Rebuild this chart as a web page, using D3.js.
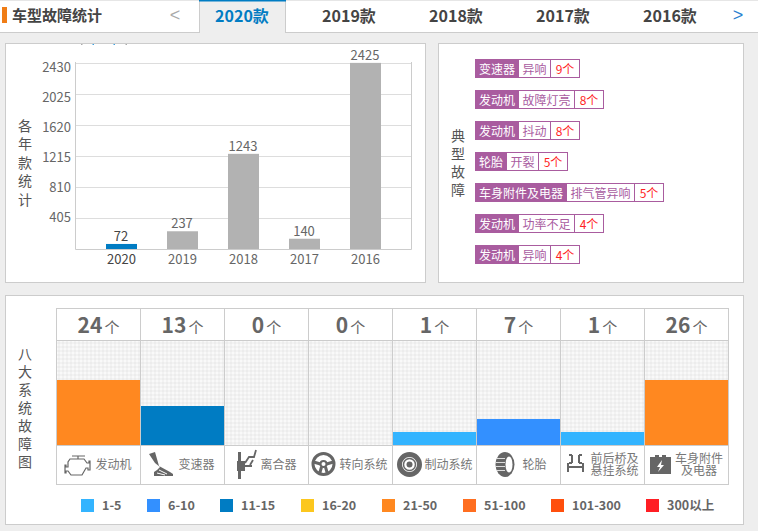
<!DOCTYPE html>
<html><head><meta charset="utf-8">
<script src="https://cdn.jsdelivr.net/npm/d3@7/dist/d3.min.js"></script>
<style>html,body{margin:0;padding:0;background:#eee;overflow:hidden}svg{display:block}
text{font-family:"Noto Sans CJK SC","Noto Sans",sans-serif}</style></head><body><svg id="c" width="758" height="531"></svg>
<script>
const tabYears=["2020款","2019款","2018款","2017款","2016款"];
const years=["2020","2019","2018","2017","2016"];
const yearCounts=[72,237,1243,140,2425];
const yTicks=[405,810,1215,1620,2025,2430];
const tagSystems=["变速器","发动机","发动机","轮胎","车身附件及电器","发动机","发动机"];
const tagFaults=["异响","故障灯亮","抖动","开裂","排气管异响","功率不足","异响"];
const tagCounts=[9,8,8,5,5,4,4];
const systems=["发动机","变速器","离合器","转向系统","制动系统","轮胎","前后桥及\n悬挂系统","车身附件\n及电器"];
const systemCounts=[24,13,0,0,1,7,1,26];
const legendLabels=["1-5","6-10","11-15","16-20","21-50","51-100","101-300","300以上"];
const legendColors=["#33b4ff","#3390ff","#007cc3","#fcc71e","#ff8820","#ff6e20","#ff4f0d","#ff1e24"];
const bucketStarts=[1,6,11,16,21,51,101,301];

const svg=d3.select("#c");
const W=758,H=531;
function rect(x,y,w,h,fill,stroke){return svg.append("rect").attr("x",x).attr("y",y).attr("width",w).attr("height",h).attr("fill",fill).attr("stroke",stroke||"none");}
function text(p,x,y,s,size,fill,anchor,weight){return p.append("text").attr("x",x).attr("y",y).text(s).attr("font-size",size).attr("fill",fill).attr("text-anchor",anchor||"start").attr("font-weight",weight||400);}
function stacked(parts,x,y0,step,size,fill){
  const t=svg.append("text").attr("font-size",size).attr("fill",fill).attr("text-anchor","middle");
  parts.forEach((c,i)=>t.append("tspan").attr("x",x).attr("y",y0+i*step).text(c));
}
function vertical(chars,x,y0,step,size,fill){stacked([...chars],x,y0,step,size,fill);}

// top bar
rect(0,0,W,32.5,"#fff");
svg.append("line").attr("x1",0).attr("x2",W).attr("y1",0.5).attr("y2",0.5).attr("stroke","#e6e6e6");
svg.append("line").attr("x1",0).attr("x2",W).attr("y1",32.5).attr("y2",32.5).attr("stroke","#ccc");
rect(2,7,5,16,"#f07d16");
text(svg,12,21,"车型故障统计",15,"#444","start",700);
rect(199.5,0,86,34,"#eee");
svg.append("path").attr("d","M199.5 33V0M285.5 33V0").attr("stroke","#ccc").attr("fill","none");
rect(199,0,87,1.5,"#007cc3");
const tabX=d3.scalePoint().domain(tabYears).range([242,670]);
tabYears.forEach((t,i)=>text(svg,tabX(t),22,t,16,i===0?"#007cc3":"#444","middle",700));
text(svg,175,21,"<",18,"#aaa","middle").style("font-family","Liberation Sans");
text(svg,738,21,">",18,"#2a80d0","middle").style("font-family","Liberation Sans");

// panels
rect(5.5,43.5,420,239,"#fff","#ccc");
rect(438.5,43.5,305,239,"#fff","#ccc");
rect(5.5,295.5,738,229,"#fff","#ccc");
// clipped legend remnants at the panel's top edge
[[81,"#aaa"],[92.5,"#3aa0e0"],[113.5,"#3aa0e0"],[125.5,"#aaa"]].forEach(m=>rect(m[0],44,1.5,1,m[1]));

// yearly chart
const x=d3.scaleBand().domain(years).range([91,396]).paddingInner(30/61).paddingOuter(15/61);
const y=d3.scaleLinear().domain([0,2430]).range([249.5,62.5]);
const yLab=d3.scaleLinear().domain([0,2430]).range([251,71]);
const gg=svg.append("g");
gg.selectAll("line").data(yTicks).join("line").attr("x1",75).attr("x2",411).attr("y1",d=>Math.round(y(d))+.5).attr("y2",d=>Math.round(y(d))+.5).attr("stroke","#ddd");
gg.append("path").attr("d","M75.5 62V249.5H411.5V62").attr("fill","none").attr("stroke","#ccc");
const axL=svg.append("g").attr("transform","translate(71,0)").call(d3.axisLeft(yLab).tickValues(yTicks).tickFormat(d3.format("d")).tickSize(0).tickPadding(0));
axL.select(".domain").remove();
axL.selectAll("text").attr("font-size",13).attr("fill","#666").attr("font-family",'"Noto Sans CJK SC"').attr("dy",0).attr("y",0);
const axB=svg.append("g").attr("transform","translate(0,264)").call(d3.axisBottom(x).tickSize(0).tickPadding(0));
axB.select(".domain").remove();
axB.selectAll("text").attr("font-size",13).attr("font-family",'"Noto Sans CJK SC"').attr("y",0).attr("dy",0).attr("fill",d=>d==="2020"?"#444":"#666");
svg.append("g").selectAll("rect").data(years).join("rect").attr("x",d=>x(d)).attr("width",x.bandwidth())
 .attr("y",(d,i)=>y(yearCounts[i])).attr("height",(d,i)=>249-y(yearCounts[i])).attr("fill",d=>d==="2020"?"#007cc3":"#b2b2b2");
years.forEach((d,i)=>text(svg,x(d)+x.bandwidth()/2-.5,y(yearCounts[i])-3,yearCounts[i],13,i===0?"#444":"#666","middle"));
vertical("各年款统计",25,131,18.4,14,"#555");
vertical("典型故障",458,141,18,14,"#555");

// fault tags
const rowY=d3.scalePoint().domain(d3.range(tagSystems.length)).range([59,245]);
const purple="#a95c9f";
tagSystems.forEach((s,i)=>{
  const g=svg.append("g").attr("transform",`translate(475,${rowY(i)})`);
  const w0=[...s].length*12+8, w1=[...tagFaults[i]].length*12+7, w2=30;
  g.append("rect").attr("x",.5).attr("y",.5).attr("width",w0+w1+w2-1).attr("height",18).attr("fill","#fff").attr("stroke",purple);
  g.append("rect").attr("x",0).attr("y",0).attr("width",w0).attr("height",19).attr("fill",purple);
  g.append("line").attr("x1",w0+w1+.5).attr("x2",w0+w1+.5).attr("y1",0).attr("y2",19).attr("stroke",purple);
  text(g,w0/2,14.5,s,12,"#fff","middle");
  text(g,w0+w1/2,14.5,tagFaults[i],12,purple,"middle");
  text(g,w0+w1+w2/2,14.5,tagCounts[i]+"个",12,"#ff1e24","middle");
});

// system table
const defs=svg.append("defs");
const pat=defs.append("pattern").attr("id","dots").attr("width",4).attr("height",4).attr("patternUnits","userSpaceOnUse");
pat.append("rect").attr("width",4).attr("height",4).attr("fill","#f2f2f2");
pat.append("rect").attr("x",0).attr("y",0).attr("width",2).attr("height",2).attr("fill","#f9f9f9");
pat.append("rect").attr("x",2).attr("y",2).attr("width",2).attr("height",2).attr("fill","#ececec");
const cx=d3.scaleBand().domain(systems).range([56.5,728.5]);
const level=d3.scaleThreshold().domain(bucketStarts).range([0,1,2,3,4,5,6,7,8]);
const barH=d3.scaleLinear().domain([0,8]).range([0,104]);
rect(56.5,340.5,672,104.5,"url(#dots)");
systems.forEach((s,i)=>{
  const v=systemCounts[i],l=level(v);
  if(l>0) svg.append("rect").attr("x",cx(s)+.5).attr("width",cx.bandwidth()-1).attr("y",445-barH(l)).attr("height",barH(l)).attr("fill",legendColors[l-1]);
  const t=svg.append("text").attr("x",cx(s)+42).attr("y",333).attr("text-anchor","middle");
  t.append("tspan").text(v).attr("font-size",21).attr("font-weight",700).attr("fill","#666");
  t.append("tspan").text("个").attr("font-size",15).attr("fill","#666").attr("dx",2);
});
const tl=svg.append("g").attr("stroke","#ccc").attr("fill","none");
[308.5,340.5,445.5,484.5].forEach(v=>tl.append("line").attr("x1",56).attr("x2",729).attr("y1",v).attr("y2",v));
d3.range(0,9).forEach(i=>{const xx=56.5+84*i;tl.append("line").attr("x1",xx).attr("x2",xx).attr("y1",308).attr("y2",485);});
vertical("八大系统故障图",25,358.5,18.1,14,"#555");

// system labels and icons
const labelX=[113.5,196.5,278.5,363.5,448.5,534.5,614.5,699];
systems.forEach((s,i)=>{
  const ls=s.split("\n");
  stacked(ls,labelX[i],ls.length===1?468.5:462.5,12,12,"#777");
});
const ig="#666";
function icon(px,py){return svg.append("g").attr("transform",`translate(${px},${py})`);}
let ic=icon(64,452); // engine
ic.append("path").attr("d","M8 4H21M14 4V7M6 7H20L23 11H25V9H26V18H24V16H22L18 23H7L4 19H2V21H1V13H2V15H4V10Z").attr("fill","none").attr("stroke",ig).attr("stroke-width",1.2);
ic=icon(149,452); // shifter
ic.append("path").attr("d","M0 2L6 0L10 14L21 20L24 22V24H5V20L8 18L11 15L6 11Z").attr("fill",ig);
ic.append("path").attr("d","M10 18L18 22M8 21L16 23").attr("stroke","#fff").attr("stroke-width",1);
ic=icon(238,449); // clutch
ic.append("path").attr("d","M0 3H3V30H0ZM-1 12H7V22H-1Z").attr("fill",ig);
ic.append("path").attr("d","M3 17H14M7 14L11 8L16 8L18 1M12 16L15 11").attr("stroke",ig).attr("stroke-width",1.8).attr("fill","none");
ic=icon(323.5,464); // steering wheel
ic.append("circle").attr("r",10.5).attr("fill","none").attr("stroke",ig).attr("stroke-width",3);
ic.append("circle").attr("r",3).attr("fill","none").attr("stroke",ig).attr("stroke-width",2);
ic.append("path").attr("d","M-10 -2L-3 0M10 -2L3 0M-2 3L-4 10M2 3L4 10").attr("stroke",ig).attr("stroke-width",3).attr("fill","none");
ic=icon(409.5,464.5); // brake disc
ic.append("circle").attr("r",10).attr("fill","none").attr("stroke",ig).attr("stroke-width",5);
ic.append("circle").attr("r",6).attr("fill","none").attr("stroke",ig).attr("stroke-width",1.5);
ic.append("circle").attr("r",3).attr("fill",ig);
ic=icon(505,464.5); // tyre
ic.append("ellipse").attr("rx",9.5).attr("ry",12.5).attr("fill",ig);
ic.append("ellipse").attr("cx",4).attr("rx",3.5).attr("ry",8).attr("fill","#fff");
ic.append("path").attr("d","M-8 -6H0M-9 -2H0M-9 2H0M-8 6H0").attr("stroke","#ddd").attr("stroke-width",1);
ic=icon(566,454); // axle
ic.append("path").attr("d","M2 9V18M17 9V18M2 13H17M6 1V9M13 1V9M6 1H3M13 1H16M6 9H3M13 9H16").attr("stroke",ig).attr("stroke-width",2).attr("fill","none");
ic=icon(650,452); // battery
ic.append("path").attr("d","M0 5H5V3H9V5H12V3H16V5H21V22H0Z").attr("fill",ig);
ic.append("path").attr("d","M12 8L7 15H10L8 20L14 13H11Z").attr("fill","#fff");

// legend
const legX=[81,147,220,301,382,463,551,646];
legendLabels.forEach((l,i)=>{
  rect(legX[i],499,13,13,legendColors[i]);
  text(svg,legX[i]+21,510,l,12.5,"#666","start",700);
});
</script></body></html>
